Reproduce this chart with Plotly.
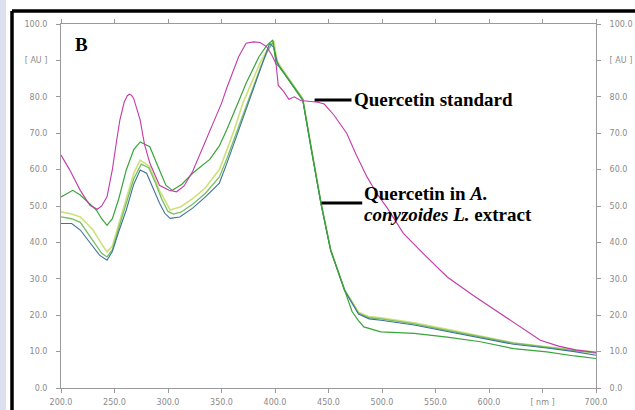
import plotly.graph_objects as go

# ---------------- data ----------------
std_nm = [200, 208, 218, 227, 234, 238, 243, 248, 252, 255, 259, 262, 264, 266, 268, 274, 278, 283, 292, 301, 308, 315,
          323, 331, 339, 344, 350, 355, 360, 366, 373, 380, 386, 392, 397, 401, 403, 408, 413, 418, 424, 432,
          440, 446, 455, 467, 476, 486, 495, 505, 520, 540, 561, 585, 611, 630, 648, 665, 682, 700]
std_au = [64.0, 60.0, 54.3, 50.2, 49.1, 50.0, 52.5, 60.0, 68.0, 73.6, 78.5, 80.3, 80.7, 80.4, 79.5, 73.6, 67.0, 61.8, 55.7, 54.3, 53.9, 55.5,
          59.5, 65.0, 70.5, 74.0, 78.2, 82.5, 86.5, 91.0, 94.7, 95.1, 94.9, 93.8, 91.5, 89.0, 83.2, 81.5, 79.3, 80.0, 79.0, 78.7,
          78.5, 78.0, 75.0, 70.0, 64.0, 58.0, 53.5, 49.4, 42.5, 36.5, 30.5, 25.5, 20.4, 16.5, 13.1, 11.5, 10.4, 9.8]

ext1_nm = [200, 205, 211, 218, 225, 233, 238, 243, 248, 254, 261, 268, 274, 283, 292, 298, 304, 313, 323, 331,
           339, 348, 355, 365, 373, 385, 392, 398, 401, 404, 413, 426, 434, 443, 452, 465, 472, 478, 483, 499,
           515, 530, 561, 592, 623, 654, 680, 700]
ext1_au = [52.5, 53.4, 54.3, 53.0, 51.0, 48.9, 46.5, 44.7, 46.5, 52.0, 59.9, 65.5, 67.6, 66.3, 59.9, 55.7, 54.3, 56.0, 59.0, 61.0,
           62.8, 66.5, 71.0, 78.0, 83.7, 91.0, 94.0, 95.6, 89.0, 88.3, 84.6, 79.1, 65.4, 50.7, 37.9, 26.9, 21.0, 18.5, 16.8, 15.4,
           15.1, 15.0, 14.0, 12.7, 10.8, 9.9, 8.8, 8.1]

ext2_nm = [200, 210, 218, 225, 230, 237, 243, 248, 254, 261, 268, 274, 283, 292, 302, 312, 323, 335, 348, 355,
           362, 370, 378, 386, 393, 399, 402, 405, 413, 426, 434, 443, 452, 465, 478, 488, 499, 530, 561, 592,
           623, 654, 680, 700]
ext2_au = [48.4, 47.8, 47.0, 45.0, 43.4, 40.0, 37.4, 39.0, 45.0, 52.5, 59.0, 62.6, 60.8, 54.3, 48.9, 49.8, 52.0, 55.0, 60.0, 65.4,
           71.0, 78.3, 84.0, 89.3, 93.0, 95.2, 90.0, 88.5, 85.0, 79.5, 66.0, 51.0, 38.0, 27.0, 20.8, 19.6, 19.3, 17.9, 16.1, 14.2,
           12.4, 11.3, 10.4, 9.9]

ext3_nm = [200, 205, 210, 218, 224, 230, 236, 243, 248, 254, 261, 268, 274, 280, 286, 292, 297, 302, 311, 323,
           335, 348, 355, 362, 370, 378, 386, 391, 395, 399, 402, 405, 413, 426, 434, 443, 452, 465, 478, 488,
           499, 530, 561, 592, 623, 654, 680, 700]
ext3_au = [45.2, 45.3, 45.2, 43.4, 41.0, 38.8, 36.5, 35.1, 37.5, 43.0, 48.9, 56.0, 59.9, 59.0, 55.0, 50.8, 48.0, 46.6, 47.0, 49.4,
           52.5, 56.3, 61.7, 67.5, 74.5, 81.0, 87.4, 91.5, 94.7, 93.5, 89.5, 88.0, 84.5, 79.0, 65.5, 50.5, 37.8, 26.8, 20.3, 19.0,
           18.6, 17.3, 15.5, 13.7, 12.0, 11.0, 10.0, 9.0]

ext4_nm = [200, 210, 218, 225, 232, 238, 243, 248, 254, 261, 268, 275, 282, 288, 294, 300, 305, 312, 323, 335,
           348, 355, 363, 371, 379, 387, 393, 398, 401, 404, 413, 426, 434, 443, 452, 465, 478, 488, 499, 530,
           561, 592, 623, 654, 680, 700]
ext4_au = [47.0, 46.5, 45.5, 42.5, 39.5, 37.0, 36.0, 38.0, 44.0, 50.5, 57.5, 61.5, 60.5, 56.5, 52.0, 48.5, 47.8, 48.3, 50.5, 53.5,
           58.0, 63.0, 69.5, 76.0, 82.5, 88.5, 92.5, 95.0, 90.0, 88.2, 84.8, 79.3, 65.6, 50.8, 38.0, 27.0, 20.6, 19.3, 19.0, 17.6,
           15.8, 14.0, 12.3, 11.2, 10.3, 9.6]

y_ticks = [0, 10, 20, 30, 40, 50, 60, 70, 80, 90, 100]
y_labels = ["0.0", "10.0", "20.0", "30.0", "40.0", "50.0", "60.0", "70.0", "80.0", "[ AU ]", "100.0"]
x_ticks = [200, 250, 300, 350, 400, 450, 500, 550, 600, 650, 700]
x_labels = ["200.0", "250.0", "300.0", "350.0", "400.0", "450.0", "500.0", "550.0", "600.0", "[ nm ]", "700.0"]

# ---------------- figure ----------------
fig = go.Figure()

series = [
    (ext2_nm, ext2_au, "#cfe07a", 1.6),
    (ext4_nm, ext4_au, "#74c062", 1.3),
    (ext3_nm, ext3_au, "#40709f", 1.1),
    (ext1_nm, ext1_au, "#38a53a", 1.2),
    (std_nm, std_au, "#c23aa8", 1.1),
]
for xs, ys, col, w in series:
    fig.add_trace(go.Scatter(x=xs, y=ys, mode="lines", line=dict(color=col, width=w),
                             showlegend=False, hoverinfo="skip"))

# invisible trace to carry right axis
fig.add_trace(go.Scatter(x=[200], y=[0], yaxis="y2", mode="markers",
                         marker=dict(opacity=0), showlegend=False, hoverinfo="skip"))

L, R, T, B = 61, 39, 24, 22
W, H = 635, 410
pw, ph = W - L - R, H - T - B


def px(x):
    return (x - L) / pw


def py(y):
    return (H - B - y) / ph


tickfont = dict(family="DejaVu Sans", size=8, color="#8a8a8a")
serif = "Liberation Serif"

fig.update_layout(
    width=W, height=H,
    margin=dict(l=L, r=R, t=T, b=B, autoexpand=False),
    paper_bgcolor="white",
    plot_bgcolor="white",
    xaxis=dict(range=[200, 700], tickvals=x_ticks, ticktext=x_labels, showgrid=False, zeroline=False,
               showline=True, linecolor="#9a9a9a", linewidth=1, mirror="ticks", ticks="outside",
               ticklen=4, tickcolor="#9a9a9a", tickfont=tickfont, automargin=False, ticklabelstandoff=2),
    yaxis=dict(range=[0, 100], tickvals=y_ticks, ticktext=y_labels, showgrid=False, zeroline=False,
               showline=True, linecolor="#9a9a9a", linewidth=1, ticks="outside", ticklen=4,
               tickcolor="#9a9a9a", tickfont=tickfont, ticklabelstandoff=7, automargin=False),
    yaxis2=dict(range=[0, 100], tickvals=y_ticks, ticktext=y_labels, showgrid=False, zeroline=False,
                overlaying="y", side="right", showline=True, linecolor="#9a9a9a", linewidth=1,
                ticks="outside", ticklen=4, tickcolor="#9a9a9a", tickfont=tickfont, ticklabelstandoff=7,
                automargin=False),
    shapes=[
        # lavender strip on the left
        dict(type="rect", xref="paper", yref="paper", x0=px(0), x1=px(6), y0=py(H + 10), y1=py(-10),
             fillcolor="#dde0ef", line=dict(width=0), layer="below"),
        # black frame
        dict(type="line", xref="paper", yref="paper", x0=px(12), x1=px(12), y0=py(11), y1=py(H + 10),
             line=dict(color="black", width=3.5)),
        dict(type="line", xref="paper", yref="paper", x0=px(12), x1=px(W + 10), y0=py(11), y1=py(11),
             line=dict(color="black", width=3.5)),
        # annotation pointer lines
        dict(type="line", xref="x", yref="y", x0=437, x1=471.5, y0=79.1, y1=79.1,
             line=dict(color="black", width=3)),
        dict(type="line", xref="x", yref="y", x0=443.5, x1=481.5, y0=50.8, y1=50.8,
             line=dict(color="black", width=3)),
    ],
    annotations=[
        dict(x=px(73), y=py(44), xref="paper", yref="paper", text="<b>B</b>", showarrow=False,
             xanchor="left", yanchor="middle", font=dict(family=serif, size=19, color="black")),
        dict(x=472.0, y=79.3, xref="x", yref="y", text="<b>Quercetin standard</b>", showarrow=False,
             xanchor="left", yanchor="middle", font=dict(family=serif, size=19, color="black")),
        dict(x=481.5, y=53.5, xref="x", yref="y", text="<b>Quercetin in <i>A.</i></b>", showarrow=False,
             xanchor="left", yanchor="middle", font=dict(family=serif, size=19, color="black")),
        dict(x=481.5, y=47.6, xref="x", yref="y", text="<b><i>conyzoides L.</i> extract</b>", showarrow=False,
             xanchor="left", yanchor="middle", font=dict(family=serif, size=19, color="black")),
    ],
)

fig.write_html("out.html", config={"displayModeBar": False},
               post_script="document.body.style.margin='0';document.body.style.overflow='hidden';")
